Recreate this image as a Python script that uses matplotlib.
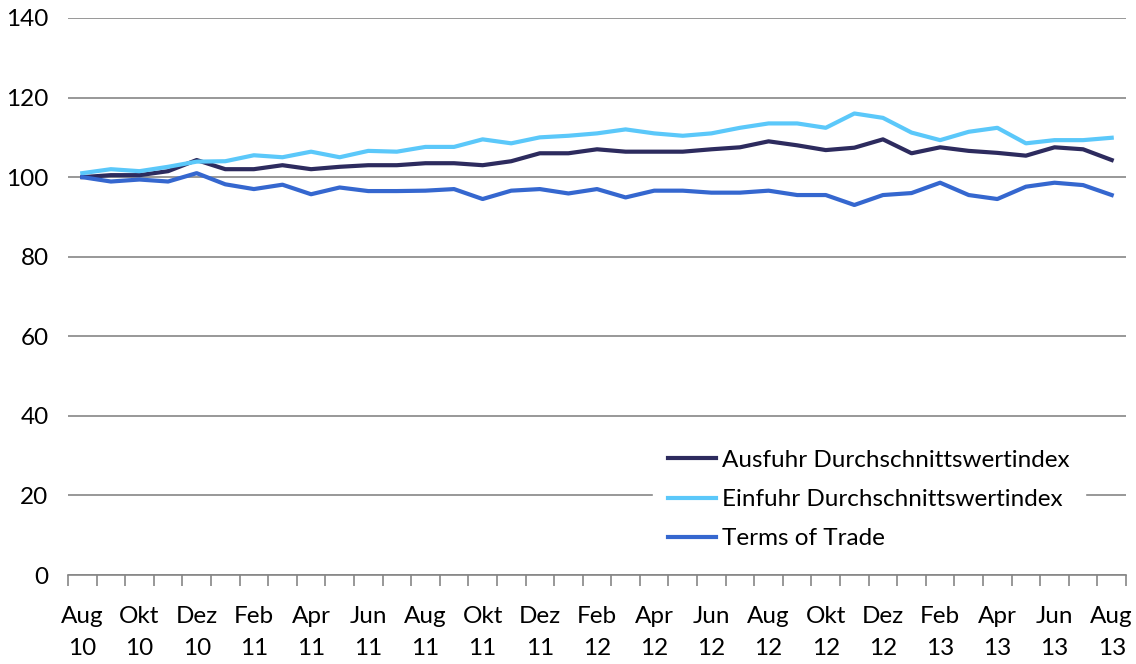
import matplotlib.pyplot as plt
from matplotlib.ticker import MultipleLocator

plt.rcParams['font.family'] = ['Lato', 'DejaVu Sans']

months = ['Aug', 'Sep', 'Okt', 'Nov', 'Dez', 'Jan', 'Feb', 'Mar', 'Apr', 'Mai', 'Jun', 'Jul'] * 3 + ['Aug']
years = ['10'] * 5 + ['11'] * 12 + ['12'] * 12 + ['13'] * 8

ausfuhr = [100, 100.5, 100.5, 101.5, 104.3, 102, 102, 103, 102, 102.6, 103, 103,
           103.5, 103.5, 103, 104, 106, 106, 107, 106.4, 106.4, 106.4, 107, 107.5,
           109, 108, 106.8, 107.4, 109.5, 106, 107.5, 106.6, 106.1, 105.4, 107.5, 107, 104.3]
einfuhr = [101, 102, 101.5, 102.6, 103.9, 104, 105.5, 105, 106.4, 105, 106.6, 106.4,
           107.6, 107.6, 109.5, 108.5, 110, 110.4, 111, 112, 111, 110.4, 111, 112.4,
           113.5, 113.5, 112.4, 116, 114.9, 111.2, 109.3, 111.4, 112.4, 108.5, 109.3, 109.3, 109.9]
terms = [100, 98.9, 99.4, 98.9, 101, 98.2, 97, 98.1, 95.7, 97.4, 96.5, 96.5,
         96.6, 97, 94.5, 96.6, 97, 95.9, 97, 94.9, 96.6, 96.6, 96.1, 96.1,
         96.6, 95.5, 95.5, 93, 95.5, 96, 98.6, 95.5, 94.5, 97.6, 98.6, 98, 95.5]

fig = plt.figure(figsize=(11.36, 6.64), dpi=100)
ax = fig.add_axes([68 / 1136, 1 - 575 / 664, 1058 / 1136, 557 / 664])

x = list(range(len(months)))
ax.plot(x, ausfuhr, color='#2d2b5e', lw=3, label='Ausfuhr Durchschnittswertindex', zorder=3)
ax.plot(x, einfuhr, color='#5bc8fa', lw=3, label='Einfuhr Durchschnittswertindex', zorder=3)
ax.plot(x, terms, color='#3567cf', lw=3, label='Terms of Trade', zorder=3)

ax.set_xlim(-0.5, len(months) - 0.5)
ax.set_ylim(0, 140)
ax.yaxis.set_major_locator(MultipleLocator(20))
ax.grid(axis='y', color='#868686', lw=1.2)
ax.set_axisbelow(True)

for s in ['top', 'right', 'left']:
    ax.spines[s].set_visible(False)
ax.spines['bottom'].set_color('#868686')
ax.spines['bottom'].set_linewidth(1.2)

ax.set_xticks(x[::2])
ax.set_xticklabels([f'{m}\n{y}' for m, y in zip(months[::2], years[::2])], linespacing=1.7)
ax.set_xticks([i - 0.5 for i in range(len(months) + 1)], minor=True)
ax.tick_params(axis='x', which='major', length=0, pad=22, labelsize=17.5)
ax.tick_params(axis='x', which='minor', length=8, color='#868686', width=1.2)
ax.tick_params(axis='y', length=0, pad=14, labelsize=17.5)

leg = ax.legend(loc='lower left', bbox_to_anchor=(0.553, 0.02), frameon=True,
                fontsize=17.5, handlelength=2.0, labelspacing=0.75, borderpad=0.6,
                handletextpad=0.25, borderaxespad=0, fancybox=False)
leg.get_frame().set_facecolor('white')
leg.get_frame().set_edgecolor('white')
leg.get_frame().set_alpha(1)

fig.savefig('out.png', dpi=100)
